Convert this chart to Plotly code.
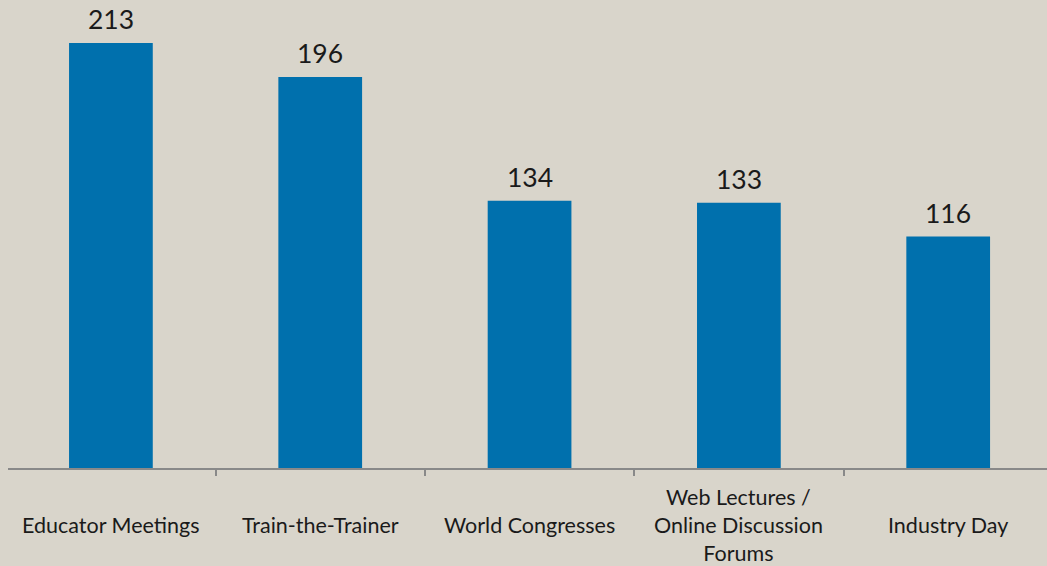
import plotly.graph_objects as go

categories = [
    "Educator Meetings",
    "Train-the-Trainer",
    "World Congresses",
    "Web Lectures /<br>Online Discussion<br>Forums",
    "Industry Day",
]
values = [213, 196, 134, 133, 116]

BG = "#d9d5cb"
BAR = "#0070ad"
TEXT = "#1a1a1a"
AXIS = "#898989"

fig = go.Figure()
fig.add_trace(
    go.Bar(
        x=categories,
        y=values,
        width=0.4,
        marker=dict(color=BAR, line=dict(width=0)),
        hoverinfo="skip",
    )
)

# value labels above bars
for cat, v in zip(categories, values):
    fig.add_annotation(
        x=cat,
        y=v,
        xref="x",
        yref="y",
        yanchor="bottom",
        yshift=6,
        text=str(v),
        showarrow=False,
        font=dict(family="Lato", size=26.5, color=TEXT),
    )

# category labels, vertically centred under the axis
for cat in categories:
    fig.add_annotation(
        x=cat,
        y=0,
        xref="x",
        yref="paper",
        yshift=-57,
        yanchor="middle",
        text=cat,
        showarrow=False,
        font=dict(family="Lato", size=21.5, color=TEXT),
    )

fig.update_layout(
    width=1047,
    height=566,
    margin=dict(l=8, r=0, t=0, b=98),
    paper_bgcolor=BG,
    plot_bgcolor=BG,
    showlegend=False,
)
fig.update_xaxes(
    type="category",
    range=[-0.4916, 4.472],
    showgrid=False,
    zeroline=False,
    showline=True,
    linecolor=AXIS,
    linewidth=2,
    showticklabels=False,
    tickson="boundaries",
    ticks="outside",
    ticklen=6,
    tickcolor=AXIS,
    tickwidth=1.5,
)
fig.update_yaxes(range=[0, 234.6], visible=False)

fig.write_html(
    "out.html",
    config={"displayModeBar": False},
    post_script=(
        "document.body.style.margin='0';"
        "document.body.style.overflow='hidden';"
        f"document.body.style.background='{BG}';"
    ),
)
